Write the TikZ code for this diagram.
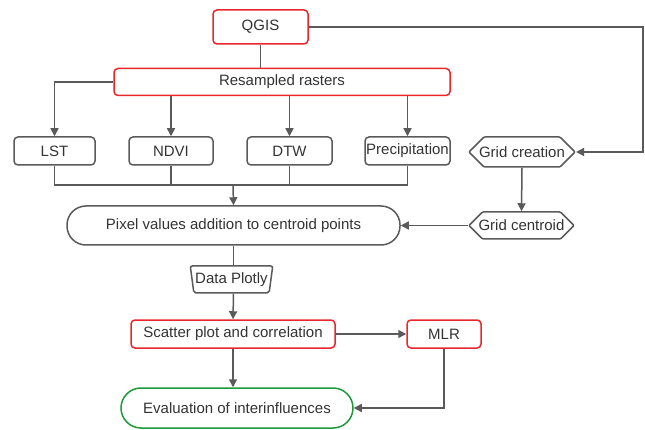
\documentclass[tikz,border=0pt]{standalone}
\usepackage{fontspec}
\setmainfont{Liberation Sans}
\usetikzlibrary{arrows.meta,shapes.geometric,shapes.symbols}
\definecolor{lgray}{HTML}{5A5A5A}
\definecolor{tgray}{HTML}{333333}
\definecolor{bred}{HTML}{E8262B}
\definecolor{bgreen}{HTML}{1E9A3C}

\begin{document}
\begin{tikzpicture}[x=1pt,y=-1pt]
            \tikzset{box/.style = {rectangle, rounded corners=4pt, draw=lgray, line width=1.5pt, text=tgray, font=\fontsize{15}{17}\selectfont, inner sep=0pt, minimum height=28pt}}
            \tikzset{redbox/.style = {box, draw=bred}}
            \tikzset{pill/.style = {box, rounded corners=19pt, minimum height=39pt}}
            \tikzset{hexa/.style = {box, rounded corners=1pt, signal, signal to=west and east, signal pointer angle=90, minimum height=30pt}}
            \tikzset{trap/.style = {box, rounded corners=2pt, trapezium, trapezium stretches=true, trapezium left angle=76, trapezium right angle=76, shape border rotate=180, minimum height=27pt}}
            \tikzset{arr/.style = {draw=lgray, line width=1.5pt, -{Triangle[length=8pt,width=8pt]}}}
            \tikzset{ln/.style = {draw=lgray, line width=1.5pt}}
            \useasboundingbox (0,0) rectangle (645,430);

            \node[redbox, minimum width=95pt, minimum height=34pt] (qgis) at (260.5,27) {QGIS};
            \node[redbox, minimum width=336pt, minimum height=27pt] (res) at (282,82) {Resampled rasters};

            \node[box, minimum width=81pt] (lst) at (54.5,151) {LST};
            \node[box, minimum width=84pt] (ndvi) at (171,151) {NDVI};
            \node[box, minimum width=85pt] (dtw) at (289.5,151) {DTW};
            \node[box, minimum width=85pt] (prec) at (407.5,151) {Precipitation};

            \node[hexa] (gcre) at (522,152) {\makebox[76pt]{Grid creation}};
            \node[hexa, minimum height=27pt] (gcen) at (521.5,225.5) {\makebox[78pt]{Grid centroid}};

            \node[pill, minimum width=333pt] (pix) at (233.5,225.5) {Pixel values addition to centroid points};
            \node[trap, minimum width=83pt] (plotly) at (231.5,279.5) {Data Plotly};

            \node[redbox, minimum width=204pt] (scat) at (233,334) {Scatter plot and correlation};
            \node[redbox, minimum width=74pt] (mlr) at (444,334) {MLR};
            \node[pill, draw=bgreen, rounded corners=20pt, minimum width=232pt, minimum height=40pt] (eval) at (237,408) {Evaluation of interinfluences};

            \coordinate (qr) at (643,152);
            \coordinate (mrg) at (233,185);

            \draw[ln] (qgis.south) -- (qgis.south |- res.north);
            \draw[arr] (qgis.east) -| (qr) -- (gcre.east);
            \draw[arr] (res.west) -| (lst.north);
            \draw[arr] (res.south -| ndvi.north) -- (ndvi.north);
            \draw[arr] (res.south -| dtw.north) -- (dtw.north);
            \draw[arr] (res.south -| prec.north) -- (prec.north);

            \draw[ln] (lst.south) |- (prec.south |- mrg) -- (prec.south);
            \draw[ln] (ndvi.south) -- (ndvi.south |- mrg);
            \draw[ln] (dtw.south) -- (dtw.south |- mrg);
            \draw[arr] (mrg) -- (pix.north);

            \draw[arr] (gcre.south) -- (gcen.north);
            \draw[arr] (gcen.west) -- (pix.east);

            \draw[ln] (pix.south) -- (pix.south |- plotly.north);
            \draw[arr] (plotly.south -| pix.south) -- (scat.north);
            \draw[arr] (scat.east) -- (mlr.west);
            \draw[arr] (scat.south) -- (scat.south |- eval.north);
            \draw[arr] (mlr.south) |- (eval.east);

        \end{tikzpicture}
\end{document}
